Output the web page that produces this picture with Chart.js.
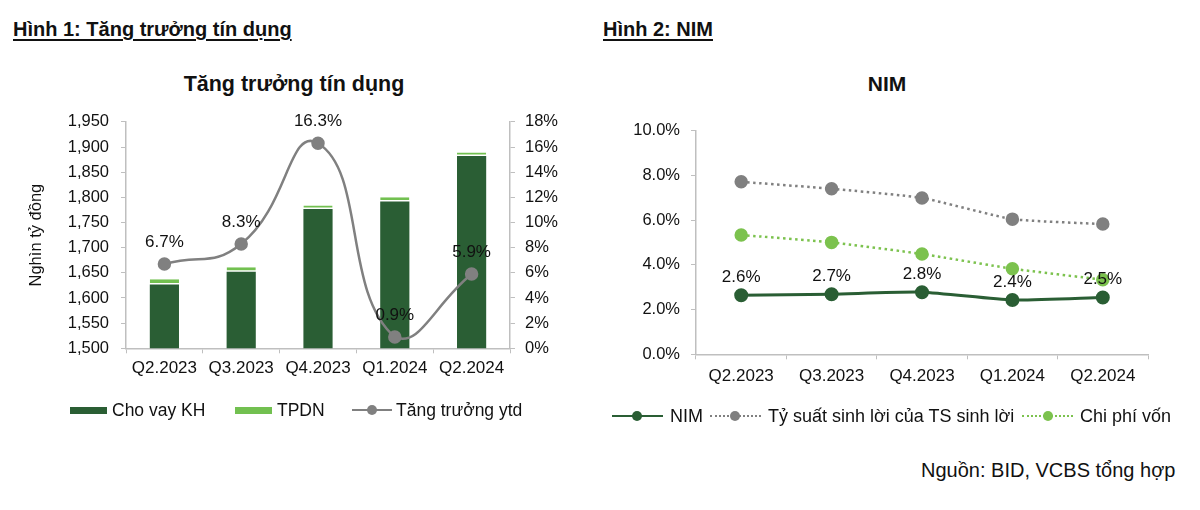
<!DOCTYPE html>
<html>
<head>
<meta charset="utf-8">
<script src="https://cdn.jsdelivr.net/npm/chart.js@4"></script>
<style>
  body { margin: 0; background: #fff; font-family: "Liberation Sans", Arial, sans-serif; color: #111; }
  #page { position: relative; width: 1200px; height: 510px; overflow: hidden; }
  .heading { position: absolute; top: 18px; font-size: 20px; font-weight: bold; text-decoration: underline; text-underline-offset: 3px; }
  .title { position: absolute; top: 72px; font-size: 21.5px; font-weight: bold; text-align: center; }
  .box { position: absolute; }
  .legend { position: absolute; font-size: 17.5px; white-space: nowrap; line-height: 20px; }
  .sw { position: absolute; height: 7px; }
  .ln { position: absolute; height: 0; }
  .dot { position: absolute; width: 10px; height: 10px; border-radius: 50%; }
</style>
</head>
<body>
<div id="page">
  <div class="heading" style="left:13px;">Hình 1: Tăng trưởng tín dụng</div>
  <div class="heading" style="left:603px;">Hình 2: NIM</div>

  <div class="title" style="left:144px; width:300px;">Tăng trưởng tín dụng</div>
  <div class="title" style="left:787px; width:200px; font-size:21px;">NIM</div>

  <div class="box" style="left:0; top:100px; width:580px; height:300px;"><canvas id="credit"></canvas></div>
  <div class="box" style="left:600px; top:110px; width:580px; height:300px;"><canvas id="nim"></canvas></div>

  <!-- legend 1 -->
  <div class="sw" style="left:70px; top:407px; width:37px; background:#2a5e34;"></div>
  <div class="legend" style="left:112px; top:400px;">Cho vay KH</div>
  <div class="sw" style="left:235px; top:407px; width:37px; background:#72c050;"></div>
  <div class="legend" style="left:277px; top:400px;">TPDN</div>
  <div class="ln" style="left:352px; top:409px; width:40px; border-top:2.5px solid #808080;"></div>
  <div class="dot" style="left:367px; top:405px; background:#808080;"></div>
  <div class="legend" style="left:396px; top:400px;">Tăng trưởng ytd</div>

  <!-- legend 2 -->
  <div class="ln" style="left:612px; top:415px; width:51px; border-top:2.5px solid #2a5e34;"></div>
  <div class="dot" style="left:632px; top:411px; background:#2a5e34;"></div>
  <div class="legend" style="left:670px; top:406px; font-size:18px;">NIM</div>
  <div class="ln" style="left:710px; top:415px; width:51px; border-top:2.5px dotted #808080;"></div>
  <div class="dot" style="left:730px; top:411px; background:#808080;"></div>
  <div class="legend" style="left:768px; top:406px; font-size:18px;">Tỷ suất sinh lời của TS sinh lời</div>
  <div class="ln" style="left:1022px; top:415px; width:51px; border-top:2.5px dotted #7cc24e;"></div>
  <div class="dot" style="left:1043px; top:411px; background:#7cc24e;"></div>
  <div class="legend" style="left:1080px; top:406px; font-size:18px;">Chi phí vốn</div>

  <div class="legend" style="left:921px; top:459px; font-size:20px; line-height:22px;">Nguồn: BID, VCBS tổng hợp</div>
</div>

<script>
// data
const quarters = ["Q2.2023", "Q3.2023", "Q4.2023", "Q1.2024", "Q2.2024"];

const loans = [1627, 1652, 1777, 1792, 1882];      // Cho vay KH, nghìn tỷ
const bonds = [10, 9, 7, 8, 7];                    // TPDN
const creditGrowth = [6.7, 8.3, 16.3, 0.9, 5.9];   // Tăng trưởng ytd, %

const nim = [2.64, 2.69, 2.78, 2.43, 2.54];
const assetYield = [7.72, 7.41, 7.0, 6.05, 5.83];
const costOfFunds = [5.34, 5.01, 4.49, 3.83, 3.34];

const creditTicks = [1500, 1550, 1600, 1650, 1700, 1750, 1800, 1850, 1900, 1950];
const growthTicks = [0, 2, 4, 6, 8, 10, 12, 14, 16, 18];
const nimTicks = [0, 2, 4, 6, 8, 10];

const FONT = '"Liberation Sans", Arial, sans-serif';
const axisGray = "#bfbfbf";

// labels above line points
const pointLabels = {
    id: "pointLabels",
    afterDatasetsDraw(chart) {
        const ctx = chart.ctx;
        chart.data.datasets.forEach((ds, i) => {
            if (!ds.labelOffset) return;
            const meta = chart.getDatasetMeta(i);
            ctx.save();
            ctx.font = "17px " + FONT;
            ctx.fillStyle = "#111";
            ctx.textAlign = "center";
            ctx.textBaseline = "middle";
            meta.data.forEach((pt, j) => {
                ctx.fillText(ds.data[j].toFixed(1) + "%", pt.x, pt.y - ds.labelOffset);
            });
            ctx.restore();
        });
    }
};

Chart.defaults.font.family = FONT;
Chart.defaults.color = "#111";

function fixedTicks(list) {
    return axis => { axis.ticks = list.map(v => ({ value: v })); };
}

new Chart(document.getElementById("credit"), {
    type: "bar",
    data: {
        labels: quarters,
        datasets: [
            {
                type: "line",
                label: "Tăng trưởng ytd",
                data: creditGrowth,
                yAxisID: "y1",
                borderColor: "#808080",
                backgroundColor: "#808080",
                borderWidth: 2.5,
                pointRadius: 5.5,
                tension: 0.5,
                order: 0,
                labelOffset: 22
            },
            {
                label: "Cho vay KH",
                data: loans,
                backgroundColor: "#2a5e34",
                borderWidth: 0,
                order: 1
            },
            {
                label: "TPDN",
                data: bonds,
                backgroundColor: "#72c050",
                borderColor: "#ffffff",
                borderWidth: { top: 0, left: 0, right: 0, bottom: 1.5 },
                borderSkipped: false,
                order: 1
            }
        ]
    },
    options: {
        responsive: true,
        maintainAspectRatio: false,
        animation: false,
        layout: { padding: { top: 21.7, left: 0, right: 0, bottom: 0 } },
        plugins: { legend: { display: false }, tooltip: { enabled: false } },
        datasets: { bar: { barPercentage: 0.38, categoryPercentage: 1 } },
        scales: {
            x: {
                stacked: true,
                grid: { color: "rgba(0,0,0,0)", tickColor: axisGray, tickLength: 5, drawOnChartArea: false },
                border: { color: axisGray, width: 1.5 },
                ticks: { font: { size: 17 }, padding: 5, maxRotation: 0 },
                afterFit: s => { s.height = 51.7; }
            },
            y: {
                stacked: true,
                min: 1500,
                max: 1950,
                afterBuildTicks: fixedTicks(creditTicks),
                grid: { color: "rgba(0,0,0,0)", tickColor: axisGray, tickLength: 5, drawOnChartArea: false },
                border: { color: axisGray, width: 1.5 },
                ticks: { font: { size: 16.5 }, padding: 12, callback: v => v.toLocaleString("en-US") },
                title: { display: true, text: "Nghìn tỷ đồng", font: { size: 16.5 }, padding: { top: 27, bottom: 0 } },
                afterFit: s => { s.width = 126; }
            },
            y1: {
                position: "right",
                min: 0,
                max: 18,
                afterBuildTicks: fixedTicks(growthTicks),
                grid: { color: "rgba(0,0,0,0)", tickColor: axisGray, tickLength: 5, drawOnChartArea: false },
                border: { color: axisGray, width: 1.5 },
                ticks: { font: { size: 16.5 }, padding: 10, callback: v => v + "%" },
                afterFit: s => { s.width = 70; }
            }
        }
    },
    plugins: [pointLabels]
});

new Chart(document.getElementById("nim"), {
    type: "line",
    data: {
        labels: quarters,
        datasets: [
            {
                label: "NIM",
                data: nim,
                borderColor: "#2a5e34",
                backgroundColor: "#2a5e34",
                borderWidth: 3,
                pointRadius: 5.5,
                tension: 0.2,
                labelOffset: 18
            },
            {
                label: "Tỷ suất sinh lời của TS sinh lời",
                data: assetYield,
                borderColor: "#808080",
                backgroundColor: "#808080",
                borderWidth: 2.5,
                borderDash: [2.5, 3.5],
                pointRadius: 5.5,
                tension: 0.15
            },
            {
                label: "Chi phí vốn",
                data: costOfFunds,
                borderColor: "#7cc24e",
                backgroundColor: "#7cc24e",
                borderWidth: 2.5,
                borderDash: [2.5, 3.5],
                pointRadius: 5.5,
                tension: 0.15
            }
        ]
    },
    options: {
        responsive: true,
        maintainAspectRatio: false,
        animation: false,
        layout: { padding: { top: 20.7, left: 0, right: 32, bottom: 0 } },
        plugins: { legend: { display: false }, tooltip: { enabled: false } },
        scales: {
            x: {
                offset: true,
                grid: { offset: true, color: "rgba(0,0,0,0)", tickColor: axisGray, tickLength: 5, drawOnChartArea: false },
                border: { color: axisGray, width: 1.5 },
                ticks: { font: { size: 17 }, padding: 7, maxRotation: 0 },
                afterFit: s => { s.height = 55.7; }
            },
            y: {
                min: 0,
                max: 10,
                afterBuildTicks: fixedTicks(nimTicks),
                grid: { color: "rgba(0,0,0,0)", tickColor: axisGray, tickLength: 5, drawOnChartArea: false },
                border: { color: axisGray, width: 1.5 },
                ticks: { font: { size: 16.5 }, padding: 11, callback: v => v.toFixed(1) + "%" },
                afterFit: s => { s.width = 96; }
            }
        }
    },
    plugins: [pointLabels]
});
</script>
</body>
</html>
